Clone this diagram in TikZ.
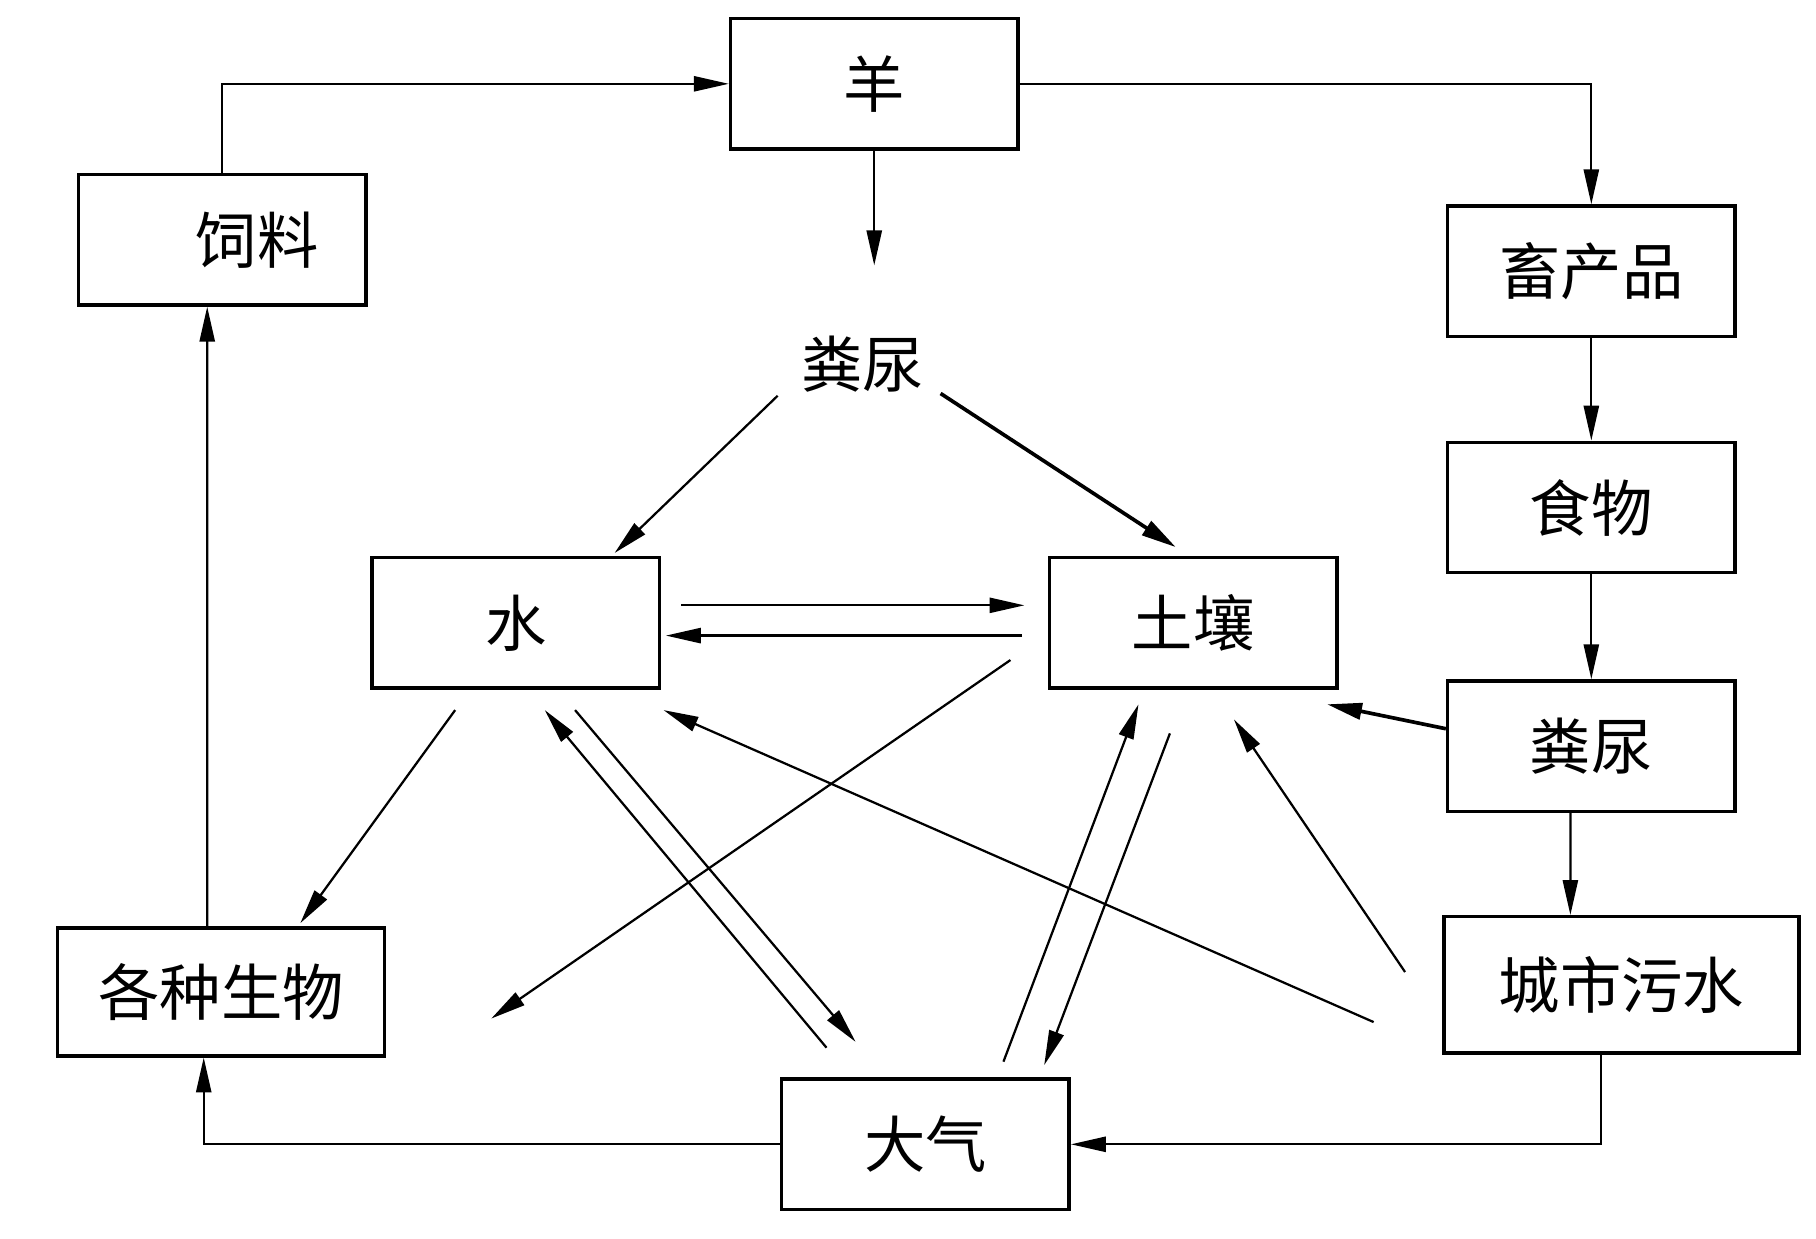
\documentclass[tikz,border=0pt]{standalone}
\usepackage{fontspec}
\newfontfamily\cjk{Noto Sans CJK SC}
\usetikzlibrary{arrows.meta}
\begin{document}
\begin{tikzpicture}[x=0.02cm,y=-0.02cm,
 box/.style={draw,line width=1.7pt,minimum width=4.94cm,minimum height=2.24cm,inner sep=0pt,font=\cjk\fontsize{30}{30}\selectfont},
 lab/.style={font=\cjk\fontsize{30}{30}\selectfont},
 ar/.style={line width=1.1pt,-{Triangle[length=0.6cm,width=0.26cm]}},
 tar/.style={line width=1.8pt,-{Triangle[length=0.6cm,width=0.28cm]}}]
\useasboundingbox (0,0) rectangle (1560,1064);
\node[box] (yang) at (751,72) {羊};
\node[box] (sl) at (191,206) {\hspace{1.2cm}饲料};
\node[box] (xcp) at (1367,233) {畜产品};
\node[box] (sw) at (1367,436) {食物};
\node[box] (fn2) at (1367,641) {粪尿};
\node[box,minimum width=6.1cm,minimum height=2.34cm] (cs) at (1393,846) {城市污水};
\node[box,minimum width=5.62cm,minimum height=2.2cm] (gz) at (190,852) {各种生物};
\node[box] (dq) at (795,983) {大气};
\node[box] (shui) at (443,535) {水};
\node[box] (tr) at (1025,535) {土壤};
\node[lab] (fn) at (741,313) {粪尿};
\coordinate (fe) at (751,228);
\coordinate (e1) at (422,875);
\draw[ar] (sl.north) |- (yang.west);
\draw[ar] (yang.east) -| (xcp.north);
\draw[ar] (yang.south) -- (fe);
\draw[ar] (xcp) -- (sw);
\draw[ar] (sw) -- (fn2);
\draw[ar] ([xshift=-0.36cm]fn2.south) -- ([xshift=-0.88cm]cs.north);
\draw[ar] ([xshift=-0.36cm]cs.south) |- (dq.east);
\draw[ar] (dq.west) -| ([xshift=-0.3cm]gz.south);
\draw[ar] ([xshift=-0.24cm]gz.north) -- ([xshift=-0.26cm]sl.south);
\coordinate (a1) at (668,340); \coordinate (a2) at (528,475);
\coordinate (b1) at (808,338); \coordinate (b2) at (1010,470);
\draw[ar] (a1) -- (a2);
\draw[tar] (b1) -- (b2);
\coordinate (c1) at (585,520); \coordinate (c2) at (880,520);
\coordinate (d1) at (878,546); \coordinate (d2) at (572,546);
\draw[ar] (c1) -- (c2);
\draw[ar] (d1) -- (d2);
\coordinate (f1) at (868,567);
\draw[ar] (f1) -- (e1);
\coordinate (g1) at (391,610); \coordinate (g2) at (258,793);
\draw[ar] (g1) -- (g2);
\coordinate (h1) at (710,900); \coordinate (h2) at (468,610);
\draw[ar] (h1) -- (h2);
\coordinate (i1) at (494,610); \coordinate (i2) at (735,895);
\draw[ar] (i1) -- (i2);
\coordinate (j1) at (1180,878); \coordinate (j2) at (570,610);
\draw[ar] (j1) -- (j2);
\coordinate (k1) at (862,912); \coordinate (k2) at (978,605);
\draw[ar] (k1) -- (k2);
\coordinate (l1) at (1005,630); \coordinate (l2) at (897,915);
\draw[ar] (l1) -- (l2);
\coordinate (m1) at (1207,835); \coordinate (m2) at (1060,618);
\draw[ar] (m1) -- (m2);
\coordinate (n2) at (1140,605);
\draw[tar] ([yshift=0.3cm]fn2.west) -- (n2);
\end{tikzpicture}
\end{document}
